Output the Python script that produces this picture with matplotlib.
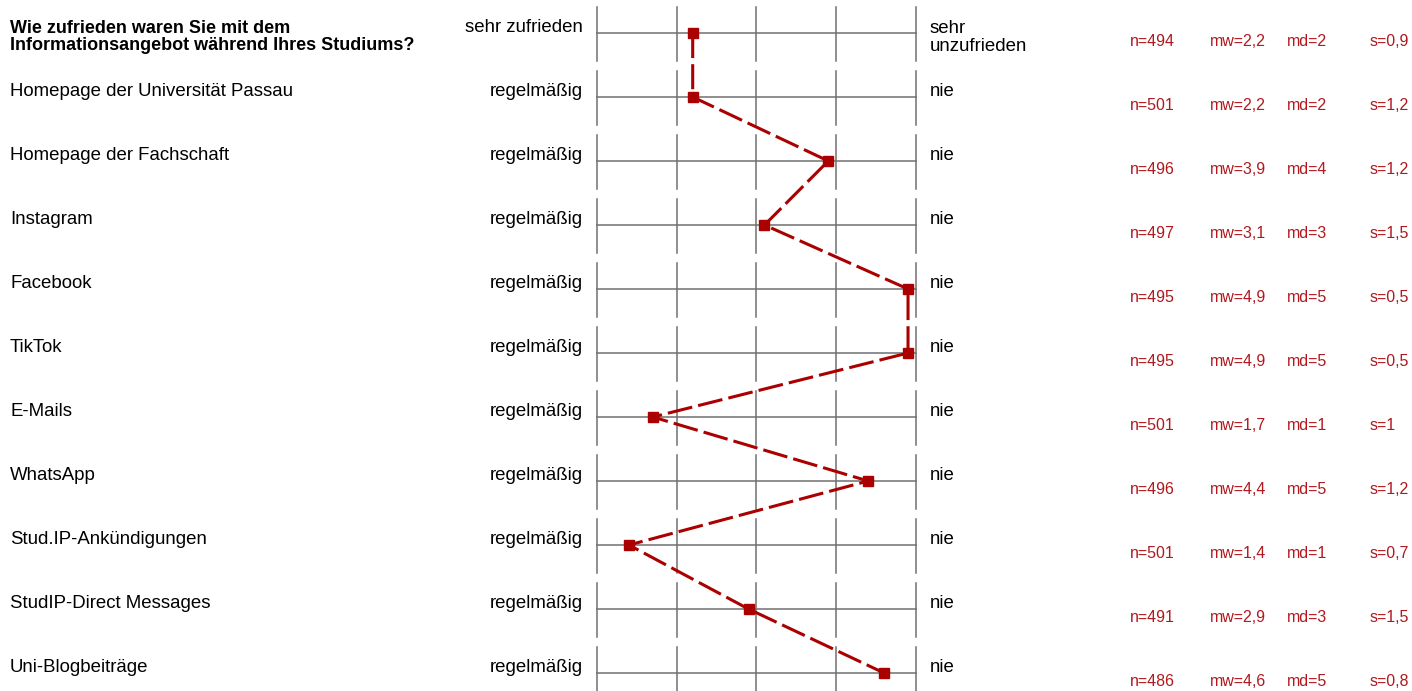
import numpy as np
import matplotlib
matplotlib.use("Agg")
import matplotlib.pyplot as plt
from matplotlib.transforms import blended_transform_factory

plt.rcParams["font.family"] = ["Liberation Sans", "DejaVu Sans"]

# data
title = "Wie zufrieden waren Sie mit dem\nInformationsangebot während Ihres Studiums?"
items = ["Homepage der Universität Passau", "Homepage der Fachschaft", "Instagram",
         "Facebook", "TikTok", "E-Mails", "WhatsApp", "Stud.IP-Ankündigungen",
         "StudIP-Direct Messages", "Uni-Blogbeiträge"]
left_poles = ["sehr zufrieden"] + ["regelmäßig"] * 10
right_poles = ["sehr\nunzufrieden"] + ["nie"] * 10
n_vals = [494, 501, 496, 497, 495, 495, 501, 496, 501, 491, 486]
mw_vals = [2.2, 2.2, 3.9, 3.1, 4.9, 4.9, 1.7, 4.4, 1.4, 2.9, 4.6]
md_vals = ["2", "2", "4", "3", "5", "5", "1", "5", "1", "3", "5"]
s_vals = ["0,9", "1,2", "1,2", "1,5", "0,5", "0,5", "1", "1,2", "0,7", "1,5", "0,8"]
scale = [1, 2, 3, 4, 5]

W, H = 1412, 691
x0_px, x1_px = 597, 916        # pixel pos of scale 1 and 5
row0_px, row_step = 33, 64
unit = (x1_px - x0_px) / 4.0

fig = plt.figure(figsize=(W / 100, H / 100), dpi=100)
ax = fig.add_axes([0, 0, 1, 1])
ax.set_xlim(1 - x0_px / unit, 1 + (W - x0_px) / unit)
ax.set_ylim((H - row0_px) / row_step, -row0_px / row_step)
ax.axis("off")

grey = "#707070"
red = "#aa0000"
txt_red = "#b0191e"
rows = np.arange(len(n_vals))

# grid of each row
for r in rows:
    ax.plot([scale[0], scale[-1]], [r, r], color=grey, lw=1.1, zorder=1)
    for s in scale:
        ax.plot([s, s], [r - 0.41, r + 0.44], color=grey, lw=1.1, zorder=1)

# profile line
ax.plot(mw_vals, rows, color=red, lw=2.2, dashes=(8.2, 2.0), zorder=2)
ax.plot(mw_vals, rows, ls="none", marker="s", ms=7.2, color=red, zorder=3)

tr = blended_transform_factory(fig.transFigure, ax.transData)
fs = 13.4
ax.text(10 / W, -13 / row_step, title, transform=tr, fontsize=13, fontweight="bold",
        va="top", ha="left", linespacing=1.0)
for i, name in enumerate(items):
    ax.text(10 / W, i + 1 - 5 / row_step, name, transform=tr, fontsize=fs, va="center", ha="left")

for r in rows:
    ax.text(583 / W, r - 5 / row_step, left_poles[r], transform=tr, fontsize=fs, va="center", ha="right")
    if r == 0:
        ax.text(930 / W, r - 13 / row_step, right_poles[r], transform=tr, fontsize=fs,
                va="top", ha="left", linespacing=1.05)
    else:
        ax.text(930 / W, r - 5 / row_step, right_poles[r], transform=tr, fontsize=fs, va="center", ha="left")
    y = r + 9 / row_step
    ax.text(1130 / W, y, f"n={n_vals[r]}", transform=tr, fontsize=11.5, color=txt_red, va="center")
    ax.text(1210 / W, y, "mw=" + f"{mw_vals[r]:.1f}".replace(".", ","), transform=tr,
            fontsize=11.5, color=txt_red, va="center")
    ax.text(1287 / W, y, f"md={md_vals[r]}", transform=tr, fontsize=11.5, color=txt_red, va="center")
    ax.text(1370 / W, y, f"s={s_vals[r]}", transform=tr, fontsize=11.5, color=txt_red, va="center")

fig.savefig("out.png", dpi=100)
